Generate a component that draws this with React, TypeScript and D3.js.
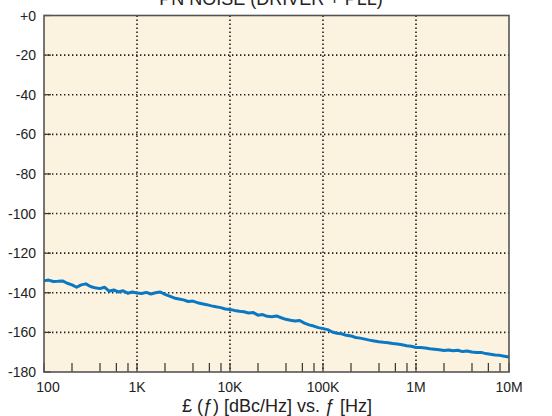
import React from "react";
import * as d3 from "d3";

const TITLE = "PN NOISE (DRIVER + PLL)";
const X_TITLE = "£ (ƒ) [dBc/Hz] vs. ƒ [Hz]";

const yTicks = [0, -20, -40, -60, -80, -100, -120, -140, -160, -180];
const yTickLabels = ["+0", "-20", "-40", "-60", "-80", "-100", "-120", "-140", "-160", "-180"];
const xDecades = [100, 1e3, 1e4, 1e5, 1e6, 1e7];
const xTickLabels = ["100", "1K", "10K", "100K", "1M", "10M"];
const minorMult = [2, 4, 6, 8];

const freqs = [
  100, 112, 126, 141, 158, 178, 200, 224, 251, 282, 316, 355, 398, 447, 501, 562, 631, 708, 794, 891,
  1000, 1120, 1260, 1410, 1580, 1780, 2000, 2240, 2510, 2820, 3160, 3550, 3980, 4470, 5010, 5620, 6310, 7080, 7940, 8910,
  10000, 11200, 12600, 14100, 15800, 17800, 20000, 22400, 25100, 28200, 31600, 35500, 39800, 44700, 50100, 56200, 63100, 70800, 79400, 89100,
  100000, 112000, 126000, 141000, 158000, 178000, 200000, 224000, 251000, 282000, 316000, 355000, 398000, 447000, 501000, 562000, 631000, 708000, 794000, 891000,
  1000000, 1120000, 1260000, 1410000, 1580000, 1780000, 2000000, 2240000, 2510000, 2820000, 3160000, 3550000, 3980000, 4470000, 5010000, 5620000, 6310000, 7080000, 7940000, 8910000,
  10000000,
];

const noise = [
  -134.0, -133.6, -134.3, -134.2, -134.0, -135.2, -136.0, -137.2, -136.0, -135.5, -136.8, -137.5, -137.9, -137.2, -139.2, -138.6, -139.6, -139.0, -140.2, -139.6,
  -140.1, -140.4, -139.8, -140.6, -140.0, -139.6, -140.8, -141.7, -142.6, -143.1, -143.6, -144.4, -144.2, -145.0, -145.5, -146.0, -146.6, -147.1, -147.5, -148.2,
  -148.4, -148.9, -149.3, -149.6, -150.2, -150.0, -151.3, -151.0, -151.9, -152.1, -151.7, -152.6, -153.4, -153.9, -154.2, -154.0, -155.3, -156.2, -156.8, -157.6,
  -158.1, -158.6, -159.8, -160.4, -160.7, -161.5, -161.8, -162.6, -162.9, -163.4, -163.9, -164.3, -164.7, -165.0, -165.2, -165.6, -165.9, -166.2, -166.7, -167.0,
  -167.6, -167.6, -167.9, -168.3, -168.5, -168.8, -169.1, -168.9, -169.3, -169.0, -169.7, -169.4, -169.9, -170.2, -170.1, -170.7, -171.0, -171.4, -171.6, -172.0,
  -172.4,
];

const W = 552;
const H = 416;
const M = { left: 44, right: 509, top: 15.5, bottom: 372 };
const FONT = "'Liberation Sans', Arial, Helvetica, sans-serif";

export default function App() {
  React.useEffect(() => {
    document.body.style.margin = "0";
  }, []);

  const x = d3.scaleLog().domain([100, 1e7]).range([M.left, M.right]);
  const y = d3.scaleLinear().domain([-180, 0]).range([M.bottom, M.top]);

  const line = d3
    .line<number>()
    .x((_, i) => x(freqs[i]))
    .y((d) => y(d));

  const minorTicks: number[] = [];
  xDecades.slice(0, -1).forEach((dec) => minorMult.forEach((m) => minorTicks.push(dec * m)));

  return (
    <svg width={W} height={H} style={{ display: "block", background: "#fff" }}>
      <rect x={M.left} y={M.top} width={M.right - M.left} height={M.bottom - M.top} fill="#fcf2e0" />
      {/* horizontal grid */}
      {yTicks.slice(1, -1).map((t) => (
        <line key={"hg" + t} x1={M.left} x2={M.right} y1={y(t)} y2={y(t)} stroke="#222" strokeWidth={1.6} strokeDasharray="1.4,2.6" />
      ))}
      {/* vertical grid */}
      {xDecades.slice(1, -1).map((t) => (
        <line key={"vg" + t} x1={x(t)} x2={x(t)} y1={M.top} y2={M.bottom} stroke="#222" strokeWidth={1.6} strokeDasharray="1.4,2.6" />
      ))}
      {/* y ticks */}
      {yTicks.map((t) => (
        <line key={"yt" + t} x1={M.left} x2={M.left + 7} y1={y(t)} y2={y(t)} stroke="#333" strokeWidth={1.2} />
      ))}
      {/* x ticks */}
      {[...minorTicks, ...xDecades].map((t) => (
        <line key={"xt" + t} x1={x(t)} x2={x(t)} y1={M.bottom} y2={M.bottom - 9} stroke="#333" strokeWidth={1.2} />
      ))}
      {/* data */}
      <path d={line(noise) || ""} fill="none" stroke="#0a78c2" strokeWidth={3} strokeLinejoin="round" />
      {/* frame */}
      <rect x={M.left} y={M.top} width={M.right - M.left} height={M.bottom - M.top} fill="none" stroke="#555" strokeWidth={1.6} />
      {/* y labels */}
      {yTicks.map((t, i) => (
        <text key={"yl" + t} x={36} y={y(t)} dy="0.36em" textAnchor="end" fontFamily={FONT} fontSize={14} fill="#222">
          {yTickLabels[i]}
        </text>
      ))}
      {/* x labels */}
      {xDecades.map((t, i) => (
        <text key={"xl" + t} x={i === 0 ? x(t) + 4 : x(t)} y={392} textAnchor="middle" fontFamily={FONT} fontSize={14} fill="#222">
          {xTickLabels[i]}
        </text>
      ))}
      <text x={277} y={412} textAnchor="middle" fontFamily={FONT} fontSize={18} fill="#222">
        {X_TITLE}
      </text>
      <text x={271} y={5} textAnchor="middle" fontFamily={FONT} fontSize={18} fill="#222">
        {TITLE}
      </text>
    </svg>
  );
}
